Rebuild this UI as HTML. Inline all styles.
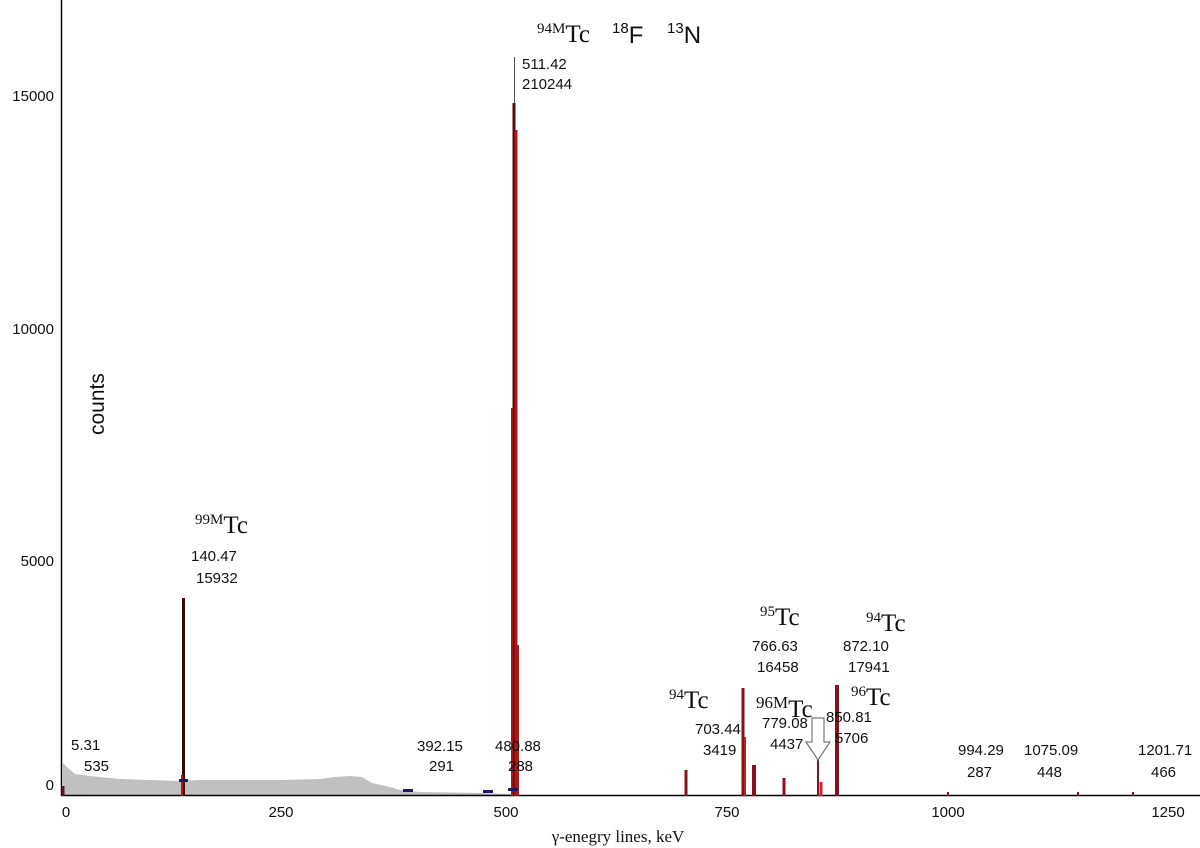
<!DOCTYPE html>
<html><head><meta charset="utf-8"><style>
html,body{margin:0;padding:0;background:#fff;}
svg{display:block}
.t{font-family:"Liberation Sans",sans-serif;font-size:15px;fill:#111}
.s{font-family:"Liberation Serif",serif;fill:#111}
</style></head><body>
<svg width="1200" height="848" viewBox="0 0 1200 848">
<polygon fill="#c0c0c0" points="63,796 63,763 68,768 75,774 90,776 120,779 150,780 180,781 200,780 240,780 280,780 320,779 335,777 350,776 362,777 372,783 390,787 400,790 420,792 480,793 510,794 510,796"/>
<line x1="61.5" y1="0" x2="61.5" y2="796" stroke="#000" stroke-width="1.5"/>
<line x1="61" y1="795.5" x2="1200" y2="795.5" stroke="#000" stroke-width="1.5"/>
<g class="t" text-anchor="end">
<text x="54" y="101">15000</text>
<text x="54" y="334">10000</text>
<text x="54" y="566">5000</text>
<text x="54" y="790">0</text>
</g>
<g class="t" text-anchor="middle">
<text x="66" y="817">0</text>
<text x="281" y="817">250</text>
<text x="506" y="817">500</text>
<text x="727" y="817">750</text>
<text x="948" y="817">1000</text>
<text x="1168" y="817">1250</text>
</g>
<text class="s" x="618" y="842" text-anchor="middle" style="font-size:17px">γ-enegry lines, keV</text>
<text class="t" x="104" y="435" style="font-size:21px" transform="rotate(-90 104 435)">counts</text>
<g stroke-linecap="butt">
<line x1="63" y1="796" x2="63" y2="786" stroke="#5a1a2a" stroke-width="3"/>
<line x1="183.5" y1="598" x2="183.5" y2="796" stroke="#3a0a0a" stroke-width="3"/>
<line x1="182" y1="775" x2="182" y2="796" stroke="#b01818" stroke-width="2"/>
<line x1="514.5" y1="57" x2="514.5" y2="105" stroke="#555" stroke-width="1"/>
<line x1="514" y1="103" x2="514" y2="796" stroke="#5a0a0a" stroke-width="3"/>
<line x1="516" y1="130" x2="516" y2="796" stroke="#b01818" stroke-width="3"/>
<line x1="512" y1="408" x2="512" y2="796" stroke="#b01818" stroke-width="2"/>
<line x1="518" y1="645" x2="518" y2="796" stroke="#b01818" stroke-width="2"/>
<line x1="686" y1="770" x2="686" y2="796" stroke="#8a1020" stroke-width="3"/>
<line x1="743" y1="688" x2="743" y2="796" stroke="#8a1020" stroke-width="3"/>
<line x1="745" y1="737" x2="745" y2="796" stroke="#c02020" stroke-width="2"/>
<line x1="754" y1="765" x2="754" y2="796" stroke="#8a1020" stroke-width="4"/>
<line x1="784" y1="778" x2="784" y2="796" stroke="#8a1020" stroke-width="3"/>
<line x1="818" y1="760" x2="818" y2="796" stroke="#8a1020" stroke-width="2"/>
<line x1="821" y1="782" x2="821" y2="796" stroke="#d02030" stroke-width="3"/>
<line x1="837" y1="685" x2="837" y2="796" stroke="#8a1020" stroke-width="4"/>
<line x1="948" y1="792" x2="948" y2="796" stroke="#8a1020" stroke-width="2"/>
<line x1="1078" y1="792" x2="1078" y2="796" stroke="#8a1020" stroke-width="2"/>
<line x1="1133" y1="792" x2="1133" y2="796" stroke="#8a1020" stroke-width="2"/>
</g>
<g fill="#1a1a6a">
<rect x="179" y="779" width="9" height="3"/>
<rect x="403" y="789" width="10" height="3"/>
<rect x="483" y="790" width="10" height="3"/>
<rect x="508" y="788" width="10" height="3"/>
</g>
<polygon points="812,718 824,718 824,742 830,742 818,760 806,742 812,742" fill="#fff" stroke="#777" stroke-width="1.2"/>
<g class="t">
<text x="71" y="750">5.31</text><text x="84" y="771">535</text>
<text x="191" y="561">140.47</text><text x="196" y="583">15932</text>
<text x="522" y="69">511.42</text><text x="522" y="89">210244</text>
<text x="417" y="751">392.15</text><text x="429" y="771">291</text>
<text x="495" y="751">480.88</text><text x="508" y="771">288</text>
<text x="695" y="734">703.44</text><text x="703" y="755">3419</text>
<text x="752" y="651">766.63</text><text x="757" y="672">16458</text>
<text x="762" y="728">779.08</text><text x="770" y="749">4437</text>
<text x="826" y="722">850.81</text><text x="835" y="743">5706</text>
<text x="843" y="651">872.10</text><text x="848" y="672">17941</text>
<text x="958" y="755">994.29</text><text x="967" y="777">287</text>
<text x="1024" y="755">1075.09</text><text x="1037" y="777">448</text>
<text x="1138" y="755">1201.71</text><text x="1151" y="777">466</text>
</g>
<g class="s" style="font-size:25px">
<text x="195" y="533"><tspan style="font-size:15px" dy="-9">99M</tspan><tspan dy="9">Tc</tspan></text>
<text x="537" y="42"><tspan style="font-size:15px" dy="-9">94M</tspan><tspan dy="9">Tc</tspan></text>
<text x="669" y="708"><tspan style="font-size:15px" dy="-9">94</tspan><tspan dy="9">Tc</tspan></text>
<text x="760" y="625"><tspan style="font-size:15px" dy="-9">95</tspan><tspan dy="9">Tc</tspan></text>
<text x="866" y="631"><tspan style="font-size:15px" dy="-9">94</tspan><tspan dy="9">Tc</tspan></text>
<text x="851" y="705"><tspan style="font-size:15px" dy="-9">96</tspan><tspan dy="9">Tc</tspan></text>
<text x="756" y="717"><tspan style="font-size:17px" dy="-9">96M</tspan><tspan dy="9">Tc</tspan></text>
</g>
<g class="t">
<text x="612" y="43" style="font-size:24px"><tspan style="font-size:15px" dy="-10">18</tspan><tspan dy="10">F</tspan></text>
<text x="667" y="43" style="font-size:24px"><tspan style="font-size:15px" dy="-10">13</tspan><tspan dy="10">N</tspan></text>
</g>
</svg>
</body></html>
